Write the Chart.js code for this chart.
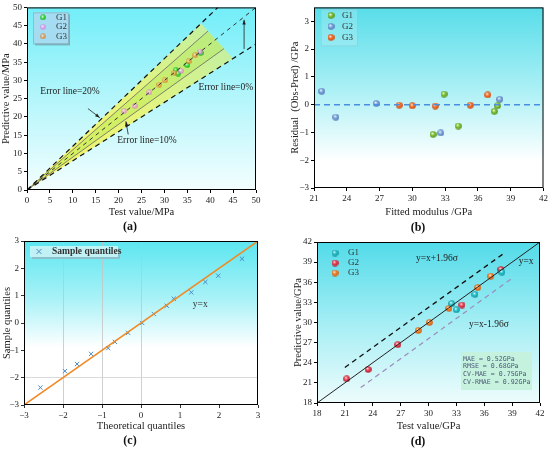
<!DOCTYPE html>
<html>
<head>
<meta charset="utf-8">
<script src="https://cdn.jsdelivr.net/npm/chart.js@4.4.1/dist/chart.umd.min.js"></script>
<style>
body { margin: 0; background: #fff; }
#wrap { position: relative; width: 550px; height: 450px; overflow: hidden; }
canvas { position: absolute; width: 275px; height: 225px; }
.lbl { position: absolute; font: bold 12px "Liberation Serif", serif; color: #111; transform: translateX(-50%); }
</style>
</head>
<body>
<div id="wrap">
  <canvas id="chartA" width="275" height="225" style="left:0;top:0"></canvas>
  <canvas id="chartB" width="275" height="225" style="left:275px;top:0"></canvas>
  <canvas id="chartC" width="275" height="225" style="left:0;top:225px"></canvas>
  <canvas id="chartD" width="275" height="225" style="left:275px;top:225px"></canvas>
  <div class="lbl" style="left:130px;top:219px">(a)</div>
  <div class="lbl" style="left:418px;top:220px">(b)</div>
  <div class="lbl" style="left:130px;top:433px">(c)</div>
  <div class="lbl" style="left:418px;top:434px">(d)</div>
</div>
<script>
const SERIF = '"Liberation Serif", serif';

// test value vs predicted value (panels a and d)
const testG1 = [32.5, 33.0, 35.0, 37.9];
const predG1 = [32.8, 31.9, 34.2, 37.5];
const testG2 = [21.2, 23.5, 26.7, 33.6, 37.8];
const predG2 = [21.6, 23.0, 26.7, 32.6, 37.9];
const testG3 = [28.9, 30.1, 32.2, 35.3, 36.7];
const predG3 = [28.8, 30.0, 32.1, 35.2, 36.9];

// panel a: error fan and reference lines
const fanX = [0, 38, 45];
const fanY = [0, 45.6, 36];
const innerX = [0, 39.5, 43.0];
const innerY = [0, 43.5, 38.7];
const err20UpX = [0, 41.67], err20UpY = [0, 50];
const err20LoX = [0, 50], err20LoY = [0, 40];
const err0X = [0, 50], err0Y = [0, 50];
const err10UpX = [0, 39.5], err10UpY = [0, 43.5];
const err10LoX = [0, 43.0], err10LoY = [0, 38.7];
const ticksA = [0, 5, 10, 15, 20, 25, 30, 35, 40, 45, 50];

// panel b: residuals
const fitG1 = [31.9, 32.9, 34.2, 37.5, 37.8];
const resG1 = [-1.07, 0.38, -0.77, -0.24, -0.04];
const fitG2 = [21.7, 23.0, 26.7, 32.6, 38.0];
const resG2 = [0.48, -0.45, 0.04, -1.02, 0.19];
const fitG3 = [28.8, 30.0, 32.1, 35.3, 36.9];
const resG3 = [-0.02, -0.04, -0.05, -0.02, 0.35];
const zeroX = [21, 42], zeroY = [0, 0];
const ticksBx = [21, 24, 27, 30, 33, 36, 39, 42];
const ticksBy = [-3, -2, -1, 0, 1, 2, 3];

// panel c: Q-Q plot
const theoQ = [-2.58, -1.95, -1.64, -1.28, -0.84, -0.67, -0.33, 0.03, 0.33, 0.66, 0.84, 1.29, 1.65, 1.98, 2.59];
const sampQ = [-2.36, -1.76, -1.50, -1.13, -0.92, -0.69, -0.36, 0.0, 0.33, 0.63, 0.89, 1.12, 1.50, 1.73, 2.35];
const refQX = [-3, 3], refQY = [-3, 3];
const ticksC = [-3, -2, -1, 0, 1, 2, 3];

// panel d: bounds
const idX = [18, 42], idY = [18, 42];
const upX = [21.0, 38.0], upY = [23.3, 40.2];
const loX = [22.7, 39.0], loY = [20.3, 36.6];
const ticksD = [18, 21, 24, 27, 30, 33, 36, 39, 42];
const statsD = ["MAE = 0.52GPa", "RMSE = 0.68GPa", "CV-MAE = 0.75GPa", "CV-RMAE = 0.92GPa"];

function pts(xs, ys) {
    return xs.map((v, i) => ({ x: v, y: ys[i] }));
}

function ball(color, dark, d, alpha) {
    const c = document.createElement("canvas");
    c.width = d; c.height = d;
    const g = c.getContext("2d");
    const r = d / 2;
    const grad = g.createRadialGradient(r * 0.75, r * 0.65, r * 0.05, r, r, r);
    grad.addColorStop(0, "#ffffff");
    grad.addColorStop(0.4, color);
    grad.addColorStop(1, dark);
    g.globalAlpha = alpha || 1;
    g.fillStyle = grad;
    g.beginPath();
    g.arc(r, r, r - 0.2, 0, Math.PI * 2);
    g.fill();
    return c;
}

function lineSet(xs, ys, color, width, dash) {
    return {
        data: pts(xs, ys), showLine: true, borderColor: color, borderWidth: width,
        borderDash: dash || [], pointRadius: 0, pointHoverRadius: 0, fill: false
    };
}

function pointSet(label, xs, ys, img) {
    return { label: label, data: pts(xs, ys), pointStyle: img, pointRadius: 4, showLine: false };
}

function minus(v) {
    return v < 0 ? "\u2212" + Math.abs(v) : "" + v;
}

function axis(tickList, title, fit, horizontal, extra) {
    const a = {
        type: "linear",
        min: tickList[0],
        max: tickList[tickList.length - 1],
        afterBuildTicks: s => { s.ticks = tickList.map(v => ({ value: v })); },
        ticks: { color: "#222", font: { family: SERIF, size: 9 }, padding: 2, callback: minus, maxRotation: 0, autoSkip: false },
        grid: { drawOnChartArea: false, tickLength: 3, color: "#000", tickColor: "#000" },
        border: { display: false },
        title: { display: true, text: title, color: "#222", font: { family: SERIF, size: 10.5 }, padding: 0 },
        afterFit: s => { if (horizontal) s.height = fit; else s.width = fit; }
    };
    return Object.assign(a, extra || {});
}

function bgPlugin(stops) {
    return {
        id: "bg",
        beforeDraw(chart) {
            const { ctx, chartArea: a } = chart;
            const g = ctx.createLinearGradient(0, a.top, 0, a.bottom);
            stops.forEach(s => g.addColorStop(s[0], s[1]));
            ctx.save();
            ctx.fillStyle = g;
            ctx.fillRect(a.left, a.top, a.right - a.left, a.bottom - a.top);
            ctx.restore();
        },
        afterDraw(chart) {
            const { ctx, chartArea: a } = chart;
            ctx.save();
            ctx.strokeStyle = "#000";
            ctx.lineWidth = 1;
            ctx.strokeRect(a.left + 0.5, a.top + 0.5, a.right - a.left - 1, a.bottom - a.top - 1);
            ctx.restore();
        }
    };
}

function text(ctx, str, x, y, font, color, align) {
    ctx.font = font;
    ctx.fillStyle = color || "#222";
    ctx.textAlign = align || "center";
    ctx.textBaseline = "middle";
    ctx.fillText(str, x, y);
}

function arrow(ctx, x1, y1, x2, y2) {
    const ang = Math.atan2(y2 - y1, x2 - x1);
    ctx.save();
    ctx.strokeStyle = "#222";
    ctx.fillStyle = "#222";
    ctx.lineWidth = 0.8;
    ctx.beginPath();
    ctx.moveTo(x1, y1);
    ctx.lineTo(x2, y2);
    ctx.stroke();
    ctx.beginPath();
    ctx.moveTo(x2, y2);
    ctx.lineTo(x2 - 5 * Math.cos(ang - 0.35), y2 - 5 * Math.sin(ang - 0.35));
    ctx.lineTo(x2 - 5 * Math.cos(ang + 0.35), y2 - 5 * Math.sin(ang + 0.35));
    ctx.closePath();
    ctx.fill();
    ctx.restore();
}

function legendBox(ctx, a, box, items, shadow) {
    ctx.save();
    if (shadow) {
        ctx.fillStyle = shadow;
        ctx.fillRect(a.left + box[0] + 2, a.top + box[1] + 2, box[2], box[3]);
    }
    if (box[4]) {
        ctx.fillStyle = box[4];
        ctx.fillRect(a.left + box[0], a.top + box[1], box[2], box[3]);
    }
    if (box[5]) {
        ctx.strokeStyle = box[5];
        ctx.lineWidth = 0.8;
        ctx.strokeRect(a.left + box[0] + 0.5, a.top + box[1] + 0.5, box[2], box[3]);
    }
    items.forEach(it => {
        ctx.drawImage(it.img, a.left + it.mx - it.img.width / 2, a.top + it.y - it.img.height / 2);
        text(ctx, it.label, a.left + it.tx, a.top + it.y, "9px " + SERIF, "#333", "left");
    });
    ctx.restore();
}

// ---------- panel a ----------
const ballA1 = ball("#44e844", "#10a010", 6, 0.95);
const ballA2 = ball("#f7a0f4", "#d060d0", 6, 0.7);
const ballA3 = ball("#f8a040", "#d06010", 6, 0.7);

const fanPlugin = {
    id: "fan",
    beforeDatasetsDraw(chart) {
        const { ctx, scales: { x, y } } = chart;
        const poly = (xs, ys, fill) => {
            ctx.beginPath();
            xs.forEach((v, i) => {
                const px = x.getPixelForValue(v), py = y.getPixelForValue(ys[i]);
                i ? ctx.lineTo(px, py) : ctx.moveTo(px, py);
            });
            ctx.closePath();
            ctx.fillStyle = fill;
            ctx.fill();
        };
        ctx.save();
        const g = ctx.createLinearGradient(x.getPixelForValue(0), y.getPixelForValue(0), x.getPixelForValue(42), y.getPixelForValue(42));
        g.addColorStop(0, "#f6f466");
        g.addColorStop(0.55, "#e6f47c");
        g.addColorStop(1, "#c4f0a0");
        poly(fanX, fanY, g);
        poly(innerX, innerY, "rgba(170, 230, 70, 0.35)");
        ctx.restore();
    },
    afterDraw(chart) {
        const { ctx, chartArea: a, scales: { x, y } } = chart;
        const P = (vx, vy) => [x.getPixelForValue(vx), y.getPixelForValue(vy)];
        ctx.save();
        const f = "9.5px " + SERIF;
        text(ctx, "Error line=20%", ...P(9.4, 26.9), f);
        text(ctx, "Error line=10%", ...P(26.2, 13.6), f);
        text(ctx, "Error line=0%", ...P(43.4, 28.0), f);
        arrow(ctx, ...P(13.3, 22.3), ...P(15.9, 19.8));
        arrow(ctx, ...P(22.1, 15.2), ...P(21.6, 18.8));
        arrow(ctx, ...P(47.4, 38.6), ...P(47.4, 46.6));
        legendBox(ctx, a, [6, 5, 35, 31, "#a6dcf2", "#8ab4c4"], [
            { img: ballA1, label: "G1", mx: 16, tx: 29, y: 10 },
            { img: ballA2, label: "G2", mx: 16, tx: 29, y: 19.5 },
            { img: ballA3, label: "G3", mx: 16, tx: 29, y: 29 }
        ], "#7aaebc");
        ctx.restore();
    }
};

new Chart(document.getElementById("chartA"), {
    type: "scatter",
    data: {
        datasets: [
            lineSet(err20UpX, err20UpY, "#111", 1.2, [5, 4]),
            lineSet(err20LoX, err20LoY, "#111", 1.2, [5, 4]),
            lineSet(err0X, err0Y, "#333", 1, [4, 4]),
            lineSet(err10UpX, err10UpY, "#666", 0.8),
            lineSet(err10LoX, err10LoY, "#666", 0.8),
            pointSet("G2", testG2, predG2, ballA2),
            pointSet("G3", testG3, predG3, ballA3),
            pointSet("G1", testG1, predG1, ballA1)
        ]
    },
    options: {
        responsive: false, animation: false,
        layout: { padding: { left: 0, right: 19, top: 6, bottom: 6.7 } },
        plugins: { legend: { display: false }, tooltip: { enabled: false } },
        scales: {
            x: axis(ticksA, "Test value/MPa", 28.3, true),
            y: axis(ticksA, "Predictive value/MPa", 27, false)
        }
    },
    plugins: [bgPlugin([[0, "#72eef8"], [0.5, "#b4f6fb"], [1, "#f4fefe"]]), fanPlugin]
});

// ---------- panel b ----------
const ballB1 = ball("#8ccc40", "#4a8a10", 7);
const ballB2 = ball("#86aee0", "#4a70b0", 7);
const ballB3 = ball("#f87a34", "#c84008", 7);

const extraB = {
    id: "extraB",
    afterDraw(chart) {
        const { ctx, chartArea: a } = chart;
        legendBox(ctx, a, [7, 2, 36, 36, "rgba(255,255,255,0.18)", "rgba(150,200,210,0.6)"], [
            { img: ballB1, label: "G1", mx: 17, tx: 28, y: 8 },
            { img: ballB2, label: "G2", mx: 17, tx: 28, y: 19 },
            { img: ballB3, label: "G3", mx: 17, tx: 28, y: 30 }
        ]);
    }
};

new Chart(document.getElementById("chartB"), {
    type: "scatter",
    data: {
        datasets: [
            lineSet(zeroX, zeroY, "#4a8ee0", 1.5, [6, 4]),
            pointSet("G1", fitG1, resG1, ballB1),
            pointSet("G2", fitG2, resG2, ballB2),
            pointSet("G3", fitG3, resG3, ballB3)
        ]
    },
    options: {
        responsive: false, animation: false,
        layout: { padding: { left: 14, right: 6, top: 5, bottom: 6.7 } },
        plugins: { legend: { display: false }, tooltip: { enabled: false } },
        scales: {
            x: axis(ticksBx, "Fitted modulus /GPa", 30.3, true),
            y: axis(ticksBy, "Residual  (Obs-Pred) /GPa", 25, false, { max: 3.5 })
        }
    },
    plugins: [bgPlugin([[0, "#58dde9"], [0.45, "#aaf0f5"], [0.85, "#ffffff"], [1, "#ffffff"]]), extraB]
});

// ---------- panel c ----------
const gridC = { drawOnChartArea: true, tickLength: 3, tickColor: "#000", lineWidth: 0.8 };

const extraC = {
    id: "extraC",
    afterDraw(chart) {
        const { ctx, chartArea: a, scales: { x, y } } = chart;
        ctx.save();
        ctx.fillStyle = "#8cc0cc";
        ctx.fillRect(a.left + 8, a.top + 7, 88, 11);
        ctx.fillStyle = "rgba(200,246,250,0.9)";
        ctx.fillRect(a.left + 6, a.top + 5, 88, 11);
        ctx.strokeStyle = "#4a8ec8";
        ctx.lineWidth = 1;
        const mx = a.left + 15, my = a.top + 10.5;
        ctx.beginPath();
        ctx.moveTo(mx - 2.5, my - 2.5); ctx.lineTo(mx + 2.5, my + 2.5);
        ctx.moveTo(mx + 2.5, my - 2.5); ctx.lineTo(mx - 2.5, my + 2.5);
        ctx.stroke();
        text(ctx, "Sample quantiles", a.left + 28, my, "bold 9.5px " + SERIF, "#333", "left");
        text(ctx, "y=x", x.getPixelForValue(1.52), y.getPixelForValue(0.69), "9.5px " + SERIF, "#333");
        ctx.restore();
    }
};

new Chart(document.getElementById("chartC"), {
    type: "scatter",
    data: {
        datasets: [
            lineSet(refQX, refQY, "#f08a24", 1.5),
            {
                label: "Sample quantiles", data: pts(theoQ, sampQ), pointStyle: "crossRot",
                pointRadius: 3, borderColor: "#4a8ec8", borderWidth: 1, showLine: false
            }
        ]
    },
    options: {
        responsive: false, animation: false,
        layout: { padding: { left: 1, right: 17, top: 16, bottom: 17.7 } },
        plugins: { legend: { display: false }, tooltip: { enabled: false } },
        scales: {
            x: axis(ticksC, "Theoretical quantiles", 27.3, true, {
                grid: Object.assign({ color: c => (c.tick && [-2, -1, 0].includes(c.tick.value)) ? "#c4c4c4" : "rgba(0,0,0,0)" }, gridC)
            }),
            y: axis(ticksC, "Sample quantiles", 23, false, {
                grid: Object.assign({ color: c => (c.tick && c.tick.value === -2) ? "#d0d0d0" : "rgba(0,0,0,0)" }, gridC)
            })
        }
    },
    plugins: [bgPlugin([[0, "#5ce6f0"], [0.35, "#a8f2f7"], [0.65, "#ffffff"], [1, "#ffffff"]]), extraC]
});

// ---------- panel d ----------
const ballD1 = ball("#30cad2", "#0a8a96", 7);
const ballD2 = ball("#f04a5c", "#b01428", 7);
const ballD3 = ball("#f88a30", "#c85808", 7);

const extraD = {
    id: "extraD",
    afterDraw(chart) {
        const { ctx, chartArea: a, scales: { x, y } } = chart;
        ctx.save();
        legendBox(ctx, a, [0, 0, 0, 0], [
            { img: ballD1, label: "G1", mx: 18, tx: 31, y: 11 },
            { img: ballD2, label: "G2", mx: 18, tx: 31, y: 21 },
            { img: ballD3, label: "G3", mx: 18, tx: 31, y: 31 }
        ]);
        const f = "9.5px " + SERIF;
        text(ctx, "y=x+1.96\u03c3", x.getPixelForValue(30.9), y.getPixelForValue(39.5), f);
        text(ctx, "y=x", x.getPixelForValue(40.5), y.getPixelForValue(39.1), f);
        text(ctx, "y=x-1.96\u03c3", x.getPixelForValue(36.5), y.getPixelForValue(29.7), f);
        const bx = a.right - 79, by = a.bottom - 51;
        ctx.fillStyle = "rgba(196,242,218,0.9)";
        ctx.fillRect(bx, by, 71, 38);
        statsD.forEach((s, i) => {
            text(ctx, s, bx + 2, by + 7 + i * 7.7, "6.6px \"DejaVu Sans Mono\", monospace", "#4a5878", "left");
        });
        ctx.restore();
    }
};

new Chart(document.getElementById("chartD"), {
    type: "scatter",
    data: {
        datasets: [
            lineSet(idX, idY, "#222", 1),
            lineSet(upX, upY, "#111", 1.4, [5, 4]),
            lineSet(loX, loY, "#9a8cb8", 1.2, [5, 4]),
            pointSet("G1", testG1, predG1, ballD1),
            pointSet("G2", testG2, predG2, ballD2),
            pointSet("G3", testG3, predG3, ballD3)
        ]
    },
    options: {
        responsive: false, animation: false,
        layout: { padding: { left: 17, right: 10, top: 17, bottom: 17.7 } },
        plugins: { legend: { display: false }, tooltip: { enabled: false } },
        scales: {
            x: axis(ticksD, "Test value/GPa", 29.3, true),
            y: axis(ticksD, "Predictive value/GPa", 25, false)
        }
    },
    plugins: [bgPlugin([[0, "#52dbe9"], [0.5, "#a4eef4"], [1, "#eefcfc"]]), extraD]
});
</script>
</body>
</html>
